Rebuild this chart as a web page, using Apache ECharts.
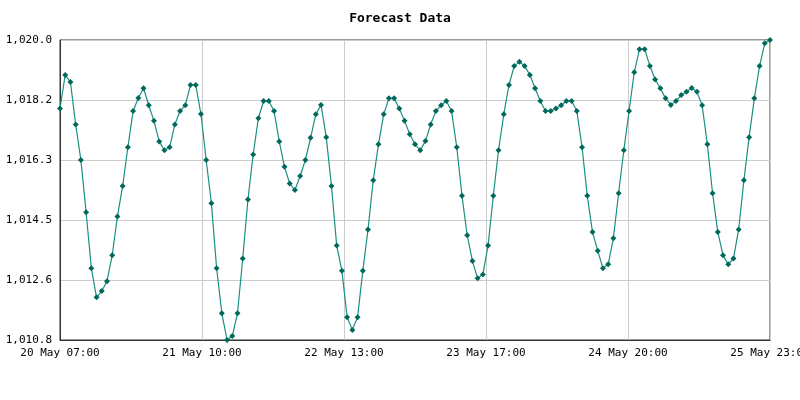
<!DOCTYPE html>
<html lang="en">
<head>
    <meta charset="UTF-8">
    <title>Forecast Data</title>
    <script type="text/javascript" src="https://cdn.jsdelivr.net/npm/echarts@6/dist/echarts.min.js"></script>
    <style>
        html, body { margin: 0; padding: 0; background: #fff; }
        #main { width: 800px; height: 400px; }
    </style>
</head>
<body>
<div id="main"></div>
<script>
    // hourly forecast, first point 20 May 07:00 (UTC)
    var startTime = Date.UTC(2024, 4, 20, 7, 0, 0);
    var hour = 3600 * 1000;

    var pressure = [
        1017.9, 1018.93, 1018.71, 1017.41, 1016.32, 1014.72, 1013.0, 1012.11, 1012.3, 1012.6,
        1013.4, 1014.59, 1015.52, 1016.71, 1017.82, 1018.22, 1018.52, 1018.0, 1017.52, 1016.89,
        1016.62, 1016.71, 1017.41, 1017.82, 1018.0, 1018.62, 1018.62, 1017.73, 1016.32, 1014.99,
        1013.0, 1011.62, 1010.8, 1010.92, 1011.62, 1013.3, 1015.11, 1016.49, 1017.6, 1018.13,
        1018.13, 1017.82, 1016.89, 1016.11, 1015.6, 1015.4, 1015.83, 1016.32, 1017.0, 1017.72,
        1018.01, 1017.02, 1015.52, 1013.7, 1012.92, 1011.5, 1011.11, 1011.5, 1012.92, 1014.19,
        1015.7, 1016.8, 1017.72, 1018.21, 1018.21, 1017.9, 1017.52, 1017.11, 1016.8, 1016.62,
        1016.9, 1017.41, 1017.82, 1018.0, 1018.13, 1017.82, 1016.71, 1015.22, 1014.01, 1013.22,
        1012.69, 1012.81, 1013.7, 1015.22, 1016.62, 1017.72, 1018.62, 1019.2, 1019.33, 1019.2,
        1018.93, 1018.52, 1018.13, 1017.82, 1017.82, 1017.9, 1018.0, 1018.13, 1018.13, 1017.82,
        1016.71, 1015.22, 1014.11, 1013.54, 1013.0, 1013.12, 1013.92, 1015.3, 1016.62, 1017.82,
        1019.01, 1019.72, 1019.72, 1019.2, 1018.79, 1018.52, 1018.21, 1018.01, 1018.13, 1018.31,
        1018.41, 1018.53, 1018.41, 1018.0, 1016.8, 1015.3, 1014.11, 1013.4, 1013.12, 1013.3,
        1014.19, 1015.7, 1017.02, 1018.21, 1019.2, 1019.9, 1020.0
    ];

    var times = [];
    for (var i = 0; i < pressure.length; i++) {
        times.push(startTime + i * hour);
    }

    var yMin = 1010.8, yMax = 1020.0;
    var months = ['Jan', 'Feb', 'Mar', 'Apr', 'May', 'Jun', 'Jul', 'Aug', 'Sep', 'Oct', 'Nov', 'Dec'];

    function fmtTime(v) {
        var d = new Date(Math.round(v / hour) * hour);
        var hh = d.getUTCHours();
        return d.getUTCDate() + ' ' + months[d.getUTCMonth()] + ' ' + (hh < 10 ? '0' + hh : hh) + ':00';
    }

    function fmtValue(v) {
        return Number(v).toLocaleString('en-US', {minimumFractionDigits: 1, maximumFractionDigits: 1});
    }

    var seriesData = [];
    for (var j = 0; j < pressure.length; j++) {
        seriesData.push([times[j], pressure[j]]);
    }

    var tFirst = times[0], tLast = times[times.length - 1];
    var font = 'DejaVu Sans Mono';

    var myChart = echarts.init(document.getElementById('main'));
    var option = {
        animation: false,
        title: {
            text: 'Forecast Data',
            left: 'center',
            top: 7,
            textStyle: {fontFamily: font, fontSize: 13, fontWeight: 'bold', color: '#000'}
        },
        grid: {
            left: 60, right: 30, top: 40, bottom: 60,
            containLabel: false,
            outerBoundsMode: 'none',
            show: true,
            borderColor: '#333',
            borderWidth: 1,
            backgroundColor: '#fff'
        },
        xAxis: {
            type: 'value',
            min: tFirst,
            max: tLast,
            interval: (tLast - tFirst) / 5,
            axisLine: {show: true, lineStyle: {color: '#333'}},
            axisTick: {show: false},
            splitLine: {show: true, lineStyle: {color: '#ccc', width: 1}},
            axisLabel: {
                fontFamily: font, fontSize: 11, color: '#000', margin: 8,
                hideOverlap: false,
                formatter: fmtTime
            }
        },
        yAxis: {
            type: 'value',
            min: yMin,
            max: yMax,
            interval: (yMax - yMin) / 5,
            axisLine: {show: true, lineStyle: {color: '#333'}},
            axisTick: {show: false},
            splitLine: {show: true, lineStyle: {color: '#ccc', width: 1}},
            axisLabel: {
                fontFamily: font, fontSize: 11, color: '#000', margin: 8,
                formatter: fmtValue
            }
        },
        series: [{
            type: 'line',
            data: seriesData,
            symbol: 'diamond',
            symbolSize: 6,
            showAllSymbol: true,
            lineStyle: {color: '#1b8f80', width: 1.2},
            itemStyle: {color: '#00695c', borderWidth: 0}
        }]
    };
    myChart.setOption(option);
</script>
</body>
</html>
